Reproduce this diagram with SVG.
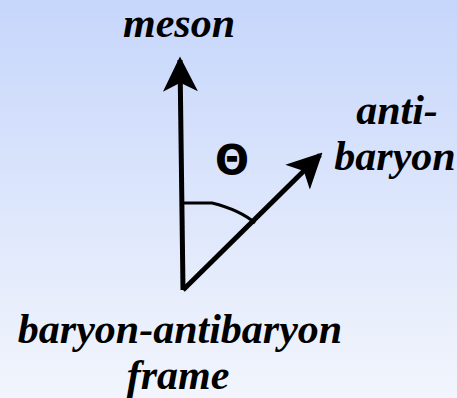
<svg xmlns="http://www.w3.org/2000/svg" width="457" height="398" viewBox="0 0 457 398">
<defs>
<linearGradient id="bg" x1="0" y1="0" x2="0" y2="1">
<stop offset="0" stop-color="#c6d6fb"/>
<stop offset="1" stop-color="#f2f5fc"/>
</linearGradient>
<marker id="ah" viewBox="0 0 10 10" refX="9" refY="5" markerWidth="7" markerHeight="7" markerUnits="strokeWidth" orient="auto">
<path d="M0,0 L10,5 L0,10 L2.5,5 Z" fill="#000"/>
</marker>
<style>
.lbl{font-family:"Liberation Serif","Times New Roman",serif;font-weight:bold;font-style:italic;font-size:42px;fill:#000;text-anchor:middle}
.vec{stroke:#000;stroke-width:5;fill:none;marker-end:url(#ah)}
</style>
</defs>
<rect width="457" height="398" fill="url(#bg)"/>
<g id="connectors">
<line class="vec" x1="183" y1="290" x2="180" y2="60"/>
<line class="vec" x1="183" y1="290" x2="320" y2="155"/>
<path d="M184,203 L212,203 Q240,210 255,223" stroke="#000" stroke-width="3" fill="none"/>
</g>
<g id="theta"><text x="232" y="174" font-family="DejaVu Sans, sans-serif" font-weight="bold" font-size="40" text-anchor="middle">Θ</text></g>
<g id="meson"><text class="lbl" x="179" y="37">meson</text></g>
<g id="antibaryon"><text class="lbl" x="397" y="124">anti-</text><text class="lbl" x="395" y="170">baryon</text></g>
<g id="frame"><text class="lbl" x="180" y="343">baryon-antibaryon</text><text class="lbl" x="178" y="389">frame</text></g>
</svg>
